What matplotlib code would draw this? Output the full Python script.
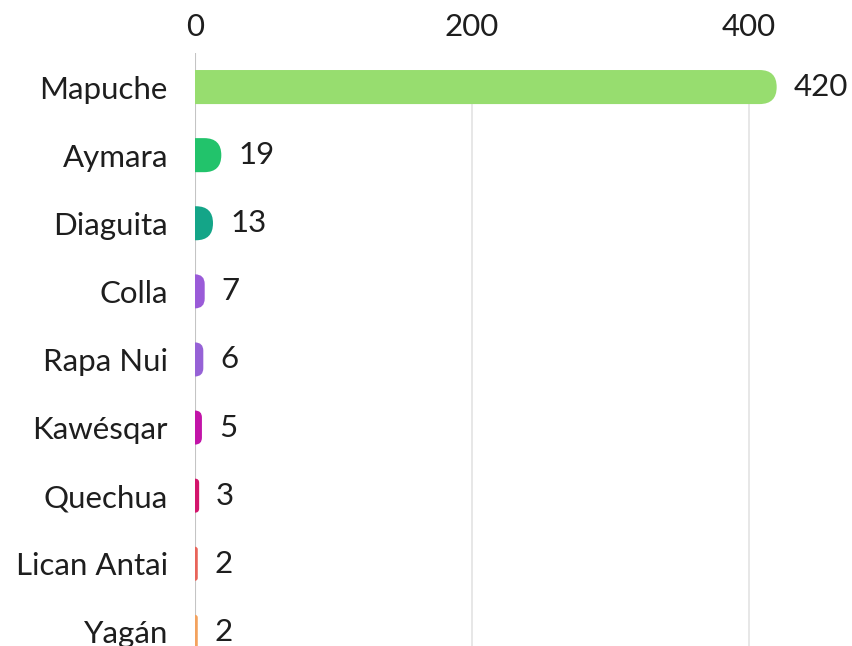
import matplotlib.pyplot as plt
from matplotlib.patches import FancyBboxPatch, Rectangle

# Data
groups = ["Mapuche", "Aymara", "Diaguita", "Colla", "Rapa Nui",
          "Kawésqar", "Quechua", "Lican Antai", "Yagán"]
values = [420, 19, 13, 7, 6, 5, 3, 2, 2]
colors = ["#97dd6f", "#22c36b", "#14a588", "#9a5bd8", "#9662d6",
          "#c214a8", "#d3156c", "#e8645a", "#f3a25e"]
ticks = [0, 200, 400]

plt.rcParams['font.family'] = ['Lato', 'DejaVu Sans']
FS = 22.5

W, H = 852, 646
fig = plt.figure(figsize=(W / 100, H / 100), dpi=100)
# axes placed in pixel terms: x=0 at 195px, first row top at 53px
left, right = 195, 839
top, bottom = 53, 53 + 68.1 * len(groups)
ax = fig.add_axes([left / W, 1 - bottom / H, (right - left) / W, (bottom - top) / H])

xmax = 465
ax.set_xlim(0, xmax)
ax.set_ylim(len(groups) - 0.5, -0.5)

bar_h = 0.5
px_per_x = (right - left) / xmax
px_per_y = (bottom - top) / len(groups)
aspect = px_per_x / px_per_y
radius_px = bar_h * px_per_y / 2

clip = Rectangle((0, -1), xmax * 2, len(groups) + 2, transform=ax.transData)

for i, (v, c) in enumerate(zip(values, colors)):
    r = min(radius_px / px_per_x, v)
    box = FancyBboxPatch((-r, i - bar_h / 2), v + r, bar_h,
                         boxstyle=f"round,pad=0,rounding_size={r}",
                         mutation_aspect=aspect, facecolor=c,
                         edgecolor="none", zorder=3)
    ax.add_patch(box)
    box.set_clip_path(clip)
    ax.text(v + 17 / px_per_x, i, str(v), va="center", ha="left",
            fontsize=FS, color="#1e1e1e")

ax.set_yticks(range(len(groups)))
ax.set_yticklabels(groups, fontsize=FS, color="#1e1e1e")
ax.set_xticks(ticks)
ax.set_xticklabels([str(t) for t in ticks], fontsize=FS, color="#1e1e1e")
ax.xaxis.tick_top()
ax.tick_params(axis="both", length=0)
ax.tick_params(axis="x", pad=9)
ax.tick_params(axis="y", pad=19.5)

for s in ax.spines.values():
    s.set_visible(False)
ax.axvline(0, color="#c4c4c4", lw=1.5, zorder=2)
for t in ticks[1:]:
    ax.axvline(t, ymin=0, ymax=1 - 0.75 / len(groups), color="#e3e3e3", lw=1.2, zorder=1)

fig.savefig("out.png", dpi=100)
